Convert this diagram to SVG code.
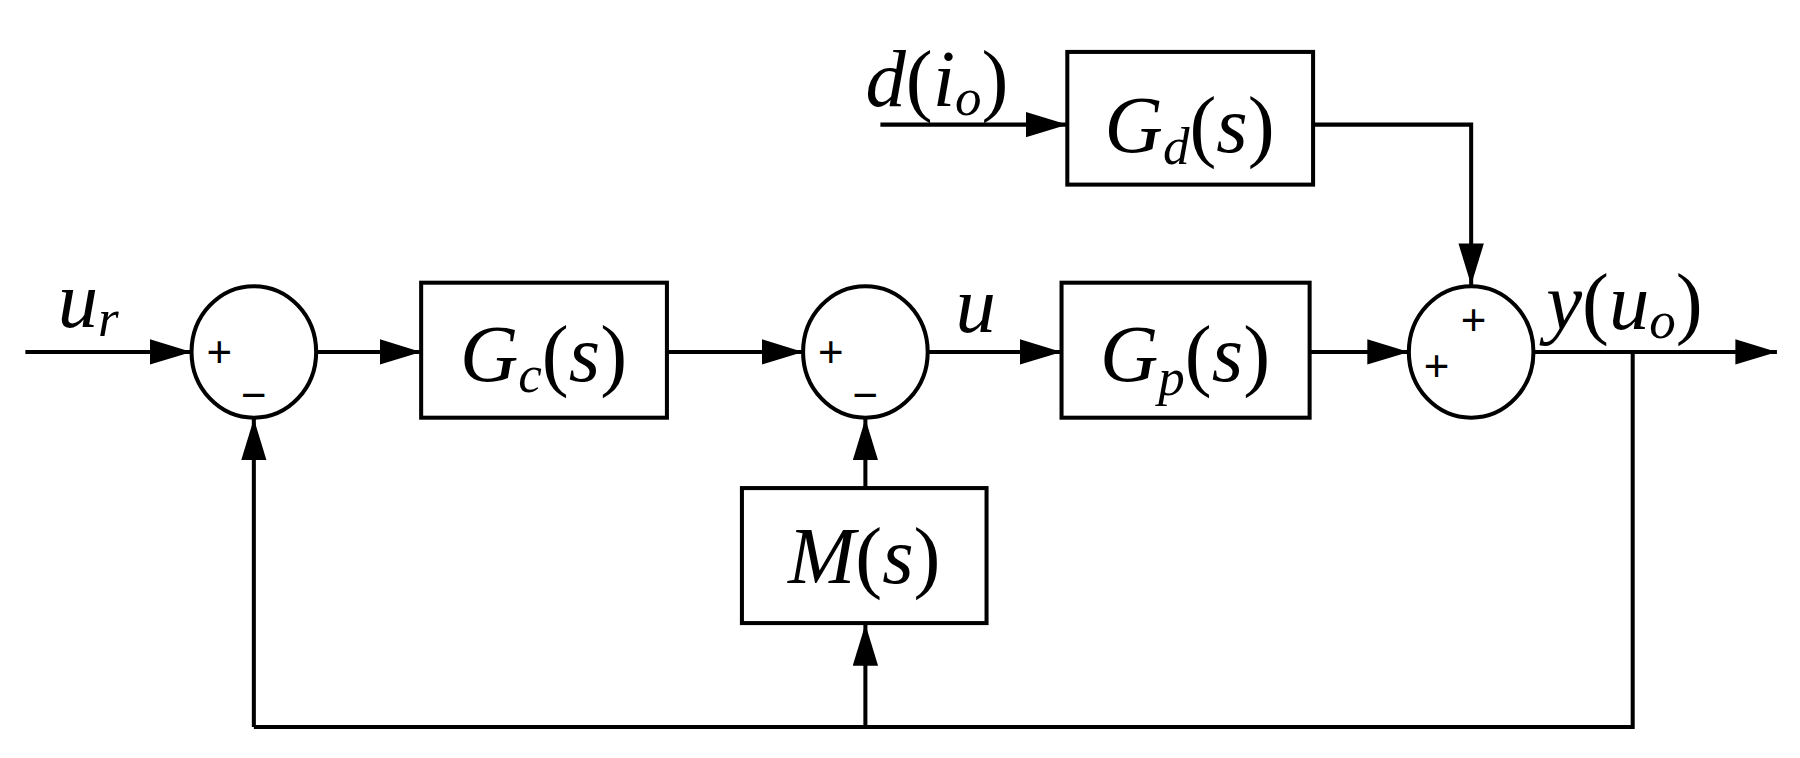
<svg xmlns="http://www.w3.org/2000/svg" width="1800" height="758" viewBox="0 0 1800 758">
<style>
.b{fill:#fff;stroke:#000;stroke-width:3.5}
.l{fill:none;stroke:#000;stroke-width:3.5;marker-end:url(#a)}
.n{fill:none;stroke:#000;stroke-width:3.5}
.t{font-family:"Liberation Serif",serif;font-size:70px;fill:#000}
.i{font-style:italic}
.s{font-family:"Liberation Sans",sans-serif;font-size:38px;fill:#000}
</style>
<defs>
<marker id="a" viewBox="0 0 36 22" markerWidth="36" markerHeight="22" refX="36" refY="11" orient="auto" markerUnits="userSpaceOnUse"><path d="M0,0L36,11L0,22z" fill="#000"/></marker>
</defs>
<rect width="1800" height="758" fill="#fff"/>
<g transform="scale(1.15385)">
<g id="connectors">
<path class="l" d="M22,305H166"/>
<path class="l" d="M275,305H365"/>
<path class="l" d="M578,305H696"/>
<path class="l" d="M804,305H920"/>
<path class="l" d="M1135,305H1221"/>
<path class="l" d="M1330,305H1540"/>
<path class="n" d="M1415,305V630H220"/>
<path class="l" d="M220,630V363"/>
<path class="l" d="M750,630V541"/>
<path class="l" d="M750,423V363"/>
<path class="l" d="M763,108H925"/>
<path class="l" d="M1138,108H1275V247"/>
</g>
<g id="sum1"><ellipse class="b" cx="220" cy="305" rx="54" ry="57"/><text class="s" x="190" y="318" text-anchor="middle">+</text><text class="s" x="220" y="355" text-anchor="middle" font-size="48">−</text></g>
<g id="sum2"><ellipse class="b" cx="750" cy="305" rx="54" ry="57"/><text class="s" x="720" y="318" text-anchor="middle">+</text><text class="s" x="750" y="355" text-anchor="middle" font-size="48">−</text></g>
<g id="sum3"><ellipse class="b" cx="1275" cy="305" rx="54" ry="57"/><text class="s" x="1245" y="330" text-anchor="middle">+</text><text class="s" x="1277" y="290" text-anchor="middle">+</text></g>
<g id="Gc"><rect class="b" x="365" y="245" width="213" height="117"/><text class="t" x="471" y="330" text-anchor="middle"><tspan class="i">G</tspan><tspan class="i" font-size="46" dy="10">c</tspan><tspan dy="-10">(</tspan><tspan class="i">s</tspan>)</text></g>
<g id="Gp"><rect class="b" x="920" y="245" width="215" height="117"/><text class="t" x="1027" y="330" text-anchor="middle"><tspan class="i">G</tspan><tspan class="i" font-size="46" dy="12">p</tspan><tspan dy="-12">(</tspan><tspan class="i">s</tspan>)</text></g>
<g id="Gd"><rect class="b" x="925" y="45" width="213" height="115"/><text class="t" x="1031" y="132" text-anchor="middle"><tspan class="i">G</tspan><tspan class="i" font-size="46" dy="10">d</tspan><tspan dy="-10">(</tspan><tspan class="i">s</tspan>)</text></g>
<g id="M"><rect class="b" x="643" y="423" width="212" height="117"/><text class="t" x="749" y="505" text-anchor="middle"><tspan class="i">M</tspan>(<tspan class="i">s</tspan>)</text></g>
<g id="labels">
<text class="t" x="50" y="283"><tspan class="i">u</tspan><tspan class="i" font-size="46" dy="8">r</tspan></text>
<text class="t i" x="828" y="288">u</text>
<text class="t" x="1340" y="285"><tspan class="i">y</tspan>(<tspan class="i">u</tspan><tspan class="i" font-size="46" dy="8">o</tspan><tspan dy="-8">)</tspan></text>
<text class="t" x="750" y="92"><tspan class="i">d</tspan>(<tspan class="i">i</tspan><tspan class="i" font-size="46" dy="8">o</tspan><tspan dy="-8">)</tspan></text>
</g>
</g>
</svg>
